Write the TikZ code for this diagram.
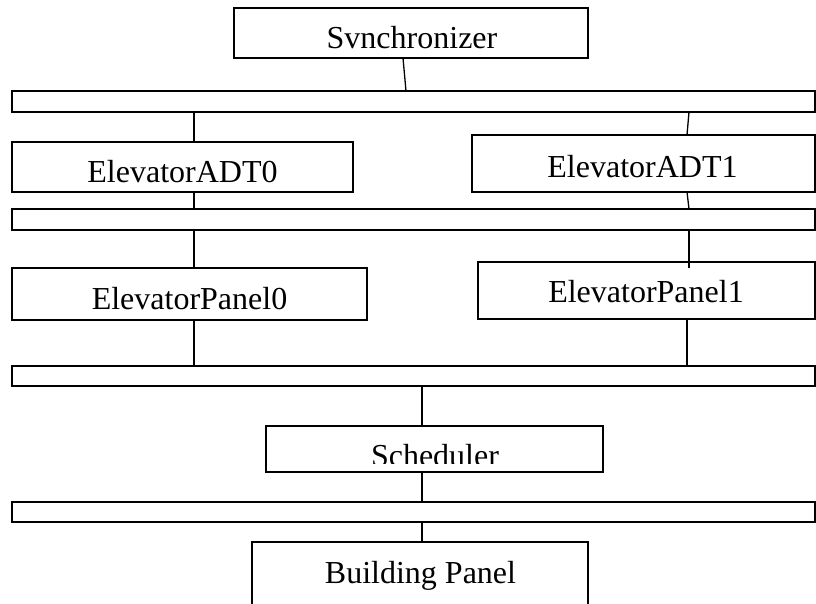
\documentclass[tikz,border=0pt]{standalone}
\usepackage{fontspec}
\setmainfont{Liberation Serif}
\begin{document}
\begin{tikzpicture}[x=1pt,y=-1pt,
  box/.style={draw=black, line width=1.8pt, rectangle, anchor=north west, inner sep=0pt, outer sep=0pt},
  lbl/.style={anchor=base, inner sep=0pt, font=\fontsize{32}{38}\selectfont},
  conn/.style={draw=black, line width=1.3pt}]
\useasboundingbox (0,0) rectangle (816,603);
% boxes and bars
\node[box, minimum width=354pt, minimum height=50pt] (sync) at (234,8) {};
\node[box, minimum width=803pt, minimum height=21pt] (bar1) at (12,91) {};
\node[box, minimum width=341pt, minimum height=50pt] (adt0) at (12,142) {};
\node[box, minimum width=343pt, minimum height=57pt] (adt1) at (472,135) {};
\node[box, minimum width=803pt, minimum height=21pt] (bar2) at (12,209) {};
\node[box, minimum width=355pt, minimum height=52pt] (ep0) at (12,268) {};
\node[box, minimum width=337pt, minimum height=57pt] (ep1) at (478,262) {};
\node[box, minimum width=803pt, minimum height=20pt] (bar3) at (12,366) {};
\node[box, minimum width=337pt, minimum height=46pt] (sched) at (266,426) {};
\node[box, minimum width=803pt, minimum height=20pt] (bar4) at (12,502) {};
\node[box, minimum width=336pt, minimum height=90pt] (bp) at (252,542) {};
% texts
\node[lbl] (syncT) at (412,48) {Svnchronizer};
\node[lbl] (adt0T) at (182.5,182) {ElevatorADT0};
\node[lbl] (adt1T) at (642.5,177) {ElevatorADT1};
\node[lbl] (ep0T) at (189.5,309) {ElevatorPanel0};
\node[lbl] (ep1T) at (646,302) {ElevatorPanel1};
\begin{scope}
  \clip (266,426) rectangle (603,463);
  \node[lbl] (schedT) at (435,466) {Scheduler};
\end{scope}
\node[lbl] (bpT) at (420.5,583) {Building Panel};
% connectors
\draw[conn] ([xshift=169pt]sync.south west) -- ([xshift=394pt]bar1.north west);
\draw[conn] ([xshift=182pt]bar1.south west) -- ([xshift=182pt]adt0.north west);
\draw[conn] ([xshift=677pt]bar1.south west) -- ([xshift=215pt]adt1.north west);
\draw[conn] ([xshift=182pt]adt0.south west) -- ([xshift=182pt]bar2.north west);
\draw[conn] ([xshift=215pt]adt1.south west) -- ([xshift=677pt]bar2.north west);
\draw[conn] ([xshift=182pt]bar2.south west) -- ([xshift=182pt]ep0.north west);
\draw[conn] ([xshift=677pt]bar2.south west) -- ([xshift=211pt,yshift=-6pt]ep1.north west);
\draw[conn] ([xshift=182pt]ep0.south west) -- ([xshift=182pt]bar3.north west);
\draw[conn] ([xshift=209pt]ep1.south west) -- ([xshift=675pt]bar3.north west);
\draw[conn] ([xshift=410pt]bar3.south west) -- ([xshift=156pt]sched.north west);
\draw[conn] ([xshift=156pt]sched.south west) -- ([xshift=410pt]bar4.north west);
\draw[conn] ([xshift=410pt]bar4.south west) -- ([xshift=170pt]bp.north west);
\end{tikzpicture}
\end{document}
